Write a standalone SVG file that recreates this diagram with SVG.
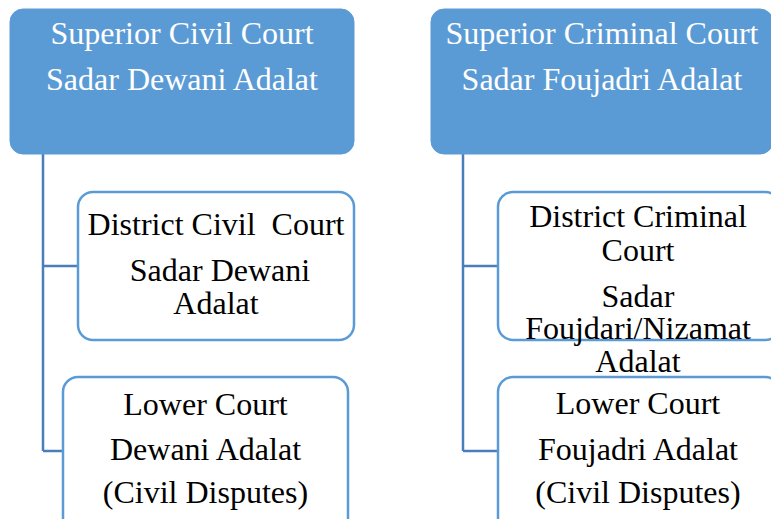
<svg xmlns="http://www.w3.org/2000/svg" width="771" height="519" viewBox="0 0 771 519">
<style>
.top{fill:#5B9BD5;stroke:#5B9BD5;stroke-width:1}
.box{fill:#FFFFFF;stroke:#5B9BD5;stroke-width:2.5}
.conn{fill:none;stroke:#4A7EBB;stroke-width:2.5}
text{font-family:"Liberation Serif","Times New Roman",serif;font-size:32px;text-anchor:middle}
.w{fill:#FFFFFF}
.b{fill:#000000}
</style>
<rect x="0" y="0" width="771" height="519" fill="#FFFFFF"/>
<g id="connectors">
<path class="conn" d="M43,154 V451 M43,266 H78 M43,451 H63"/>
<path class="conn" d="M463,154 V451 M463,266 H498 M463,451 H498"/>
</g>
<g id="superior-civil">
<rect class="top" x="10" y="9" width="344" height="145" rx="13"/>
<text class="w" x="182" y="44">Superior Civil Court</text>
<text class="w" x="182" y="90">Sadar Dewani Adalat</text>
</g>
<g id="superior-criminal">
<rect class="top" x="431" y="9" width="342" height="145" rx="13"/>
<text class="w" x="602" y="44">Superior Criminal Court</text>
<text class="w" x="602" y="90">Sadar Foujadri Adalat</text>
</g>
<g id="district-civil">
<rect class="box" x="78" y="192" width="276" height="148" rx="15"/>
<text class="b" x="216" y="235" xml:space="preserve" style="white-space:pre">District Civil  Court</text>
<text class="b" x="220" y="281">Sadar Dewani</text>
<text class="b" x="216" y="314">Adalat</text>
</g>
<g id="lower-civil">
<rect class="box" x="63" y="377" width="285" height="160" rx="15"/>
<text class="b" x="205.5" y="415">Lower Court</text>
<text class="b" x="205.5" y="460">Dewani Adalat</text>
<text class="b" x="205.5" y="503">(Civil Disputes)</text>
</g>
<g id="district-criminal">
<rect class="box" x="498" y="192" width="282" height="148" rx="15"/>
<text class="b" x="638" y="227">District Criminal</text>
<text class="b" x="638" y="261">Court</text>
<text class="b" x="638" y="307">Sadar</text>
<text class="b" x="638" y="339">Foujdari/Nizamat</text>
<text class="b" x="638" y="372">Adalat</text>
</g>
<g id="lower-criminal">
<rect class="box" x="498" y="377" width="282" height="160" rx="15"/>
<text class="b" x="638" y="414">Lower Court</text>
<text class="b" x="638" y="460">Foujadri Adalat</text>
<text class="b" x="638" y="503">(Civil Disputes)</text>
</g>
</svg>
